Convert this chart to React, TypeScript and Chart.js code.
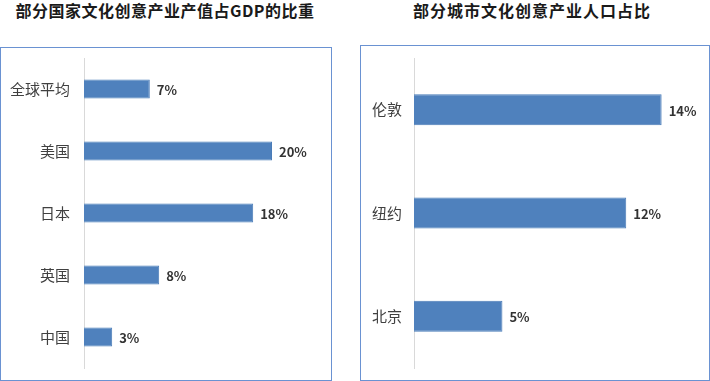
import React, { useEffect, useRef } from "react";
import { Chart, registerables } from "chart.js";

Chart.register(...registerables);

const leftTitle = "部分国家文化创意产业产值占GDP的比重";
const leftCategories = ["全球平均", "美国", "日本", "英国", "中国"];
const leftValues = [7, 20, 18, 8, 3];

const rightTitle = "部分城市文化创意产业人口占比";
const rightCategories = ["伦敦", "纽约", "北京"];
const rightValues = [14, 12, 5];

const FONT = "'Noto Sans CJK SC', 'Noto Sans', sans-serif";
const BAR_COLOR = "#4F81BD";

const valueLabels = {
  id: "valueLabels",
  afterDatasetsDraw(chart: any) {
    const ctx = chart.ctx;
    ctx.save();
    ctx.font = `bold 13px ${FONT}`;
    ctx.fillStyle = "#333333";
    ctx.textAlign = "left";
    ctx.textBaseline = "middle";
    chart.data.datasets.forEach((ds: any, di: number) => {
      const meta = chart.getDatasetMeta(di);
      meta.data.forEach((el: any, i: number) => {
        ctx.fillText(`${ds.data[i]}%`, el.x + 7, el.y + 1);
      });
    });
    ctx.restore();
  },
};

type BarProps = {
  categories: string[];
  values: number[];
  xMax: number;
  axisWidth: number;
  padRight: number;
  tickPad: number;
  barPct: number;
};

function BarChart({ categories, values, xMax, axisWidth, padRight, tickPad, barPct }: BarProps) {
  const ref = useRef<HTMLCanvasElement>(null);
  useEffect(() => {
    if (!ref.current) return;
    const chart = new Chart(ref.current, {
      type: "bar",
      data: {
        labels: categories,
        datasets: [
          {
            data: values,
            backgroundColor: BAR_COLOR,
            borderColor: "#4A7CB8",
            borderWidth: 1,
            categoryPercentage: 1,
            barPercentage: barPct,
          },
        ],
      },
      options: {
        indexAxis: "y",
        animation: false,
        responsive: false,
        maintainAspectRatio: false,
        layout: { padding: { top: 58, bottom: 13, left: 0, right: padRight } },
        plugins: {
          legend: { display: false },
          title: { display: false },
          tooltip: { enabled: false },
        },
        scales: {
          x: {
            display: false,
            min: 0,
            max: xMax,
          },
          y: {
            grid: { display: false, drawTicks: false },
            border: { display: true, color: "#D9D9D9", width: 1 },
            ticks: {
              color: "#404040",
              padding: tickPad,
              font: { family: FONT, size: 15 },
            },
            afterFit(scale: any) {
              scale.width = axisWidth;
              scale.paddingTop = 0;
              scale.paddingBottom = 0;
            },
          },
        },
      },
      plugins: [valueLabels],
    });
    return () => chart.destroy();
  }, []);
  return <canvas ref={ref} width={355} height={381} style={{ width: 355, height: 381, display: "block" }} />;
}

const titleStyle: React.CSSProperties = {
  position: "absolute",
  top: 0,
  height: 20,
  lineHeight: "20px",
  textAlign: "center",
  fontFamily: FONT,
  fontWeight: 700,
  fontSize: 16,
  letterSpacing: 1,
  color: "#1a1a1a",
  whiteSpace: "nowrap",
};

export default function App() {
  return (
    <div style={{ position: "absolute", left: 0, top: 0, width: 710, height: 381, background: "#ffffff", overflow: "hidden" }}>
      <div
        style={{
          position: "absolute",
          left: 0,
          top: 47,
          width: 332,
          height: 334,
          boxSizing: "border-box",
          border: "1px solid #6A92D2",
        }}
      />
      <div
        style={{
          position: "absolute",
          left: 360,
          top: 45,
          width: 350,
          height: 336,
          boxSizing: "border-box",
          border: "1px solid #6A92D2",
        }}
      />
      <div style={{ ...titleStyle, left: 0, width: 330, letterSpacing: 0.5 }}>{leftTitle}</div>
      <div style={{ ...titleStyle, left: 380, width: 304 }}>{rightTitle}</div>
      <div style={{ position: "absolute", left: 0, top: 0 }}>
        <BarChart
          categories={leftCategories}
          values={leftValues}
          xMax={25}
          axisWidth={84}
          padRight={36}
          tickPad={14}
          barPct={0.31}
        />
      </div>
      <div style={{ position: "absolute", left: 355, top: 0 }}>
        <BarChart
          categories={rightCategories}
          values={rightValues}
          xMax={16}
          axisWidth={59}
          padRight={13}
          tickPad={12}
          barPct={0.3}
        />
      </div>
    </div>
  );
}
